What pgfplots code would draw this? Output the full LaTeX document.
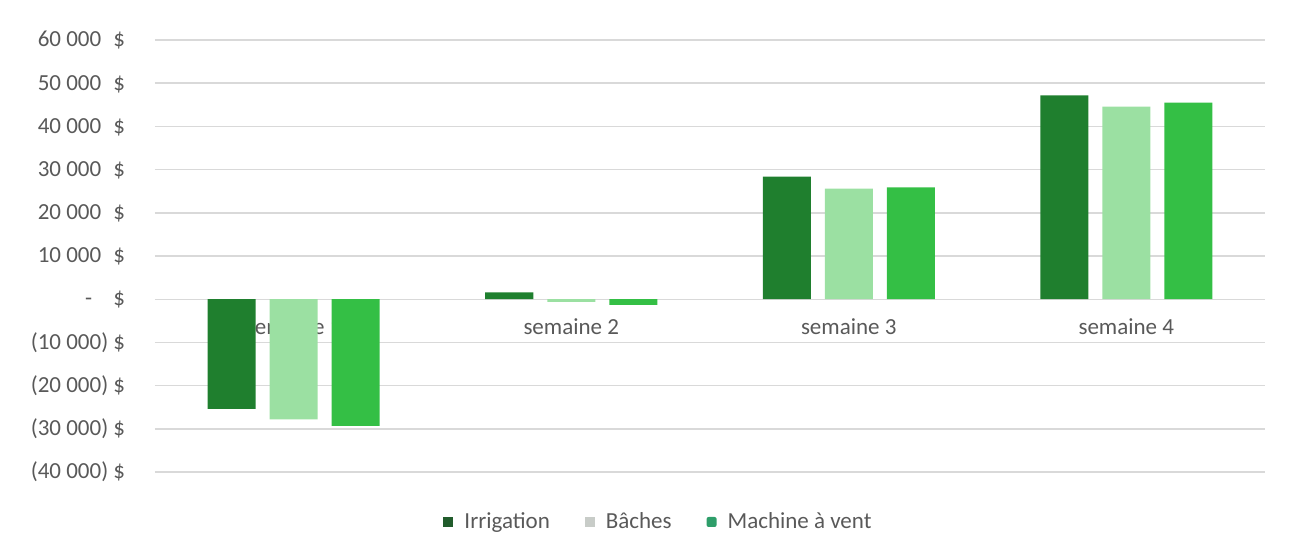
\documentclass[border=0pt]{standalone}
\usepackage{pgfplots}
\pgfplotsset{compat=1.18}
\usepackage{fontspec}
\setmainfont{Carlito}
\definecolor{irr}{RGB}{31,127,46}
\definecolor{bac}{RGB}{155,224,162}
\definecolor{mac}{RGB}{52,191,69}
\definecolor{legirr}{RGB}{33,92,44}
\definecolor{legbac}{RGB}{200,204,200}
\definecolor{legmac}{RGB}{46,158,106}
\definecolor{gridc}{RGB}{217,217,217}
\definecolor{txt}{RGB}{89,89,89}
\newcommand{\yl}[1]{\makebox[4em][r]{#1}\hspace{2.5pt}\$}
\begin{document}
\begin{tikzpicture}
\begin{axis}[
  name=ax,
  scale only axis, width=555pt, height=216pt,
  ybar, bar width=24pt, ybar=7pt,
  xmin=-0.5, xmax=3.5, ymin=-40000, ymax=60000,
  axis x line*=middle, axis y line*=left,
  axis line style={draw=none},
  major tick length=0pt,
  scaled y ticks=false,
  xtick={0,1,2,3},
  xticklabels={semaine 1,semaine 2,semaine 3,semaine 4},
  ytick={-40000,-30000,-20000,-10000,0,10000,20000,30000,40000,50000,60000},
  yticklabels={\yl{(40 000)},\yl{(30 000)},\yl{(20 000)},\yl{(10 000)},\yl{-\hspace{8pt}},\yl{10 000\phantom{)}},\yl{20 000\phantom{)}},\yl{30 000\phantom{)}},\yl{40 000\phantom{)}},\yl{50 000\phantom{)}},\yl{60 000\phantom{)}}},
  ymajorgrids, grid style={draw=gridc, line width=0.7pt},
  tick label style={font=\fontsize{11.5}{13}\selectfont, text=txt},
  yticklabel style={anchor=east, xshift=-11.5pt},
  xticklabel style={yshift=-6pt},
  legend columns=3,
  legend style={at={(0.4545,-0.1157)}, anchor=center, draw=none, fill=none,
    font=\fontsize{11.5}{13}\selectfont, text=txt,
    /tikz/every odd column/.append style={column sep=3.5pt},
    /tikz/every even column/.append style={column sep=15.5pt}},
]
\addplot[fill=irr, draw=none,
  legend image code/.code={\fill[fill=legirr] (0pt,-2.5pt) rectangle (5pt,2.5pt);}]
  coordinates {(0,-25400) (1,1600) (2,28400) (3,47200)};
\addplot[fill=bac, draw=none,
  legend image code/.code={\fill[fill=legbac] (0pt,-2.5pt) rectangle (5pt,2.5pt);}]
  coordinates {(0,-27800) (1,-600) (2,25600) (3,44600)};
\addplot[fill=mac, draw=none,
  legend image code/.code={\fill[fill=legmac, rounded corners=1pt] (0pt,-2.5pt) rectangle (5pt,2.5pt);}]
  coordinates {(0,-29300) (1,-1300) (2,25900) (3,45500)};
\legend{Irrigation, Bâches, Machine à vent}
\end{axis}
\path[use as bounding box] ([xshift=-77.5pt,yshift=-41pt]ax.south west) rectangle ([xshift=15.5pt,yshift=20pt]ax.north east);
\end{tikzpicture}
\end{document}
